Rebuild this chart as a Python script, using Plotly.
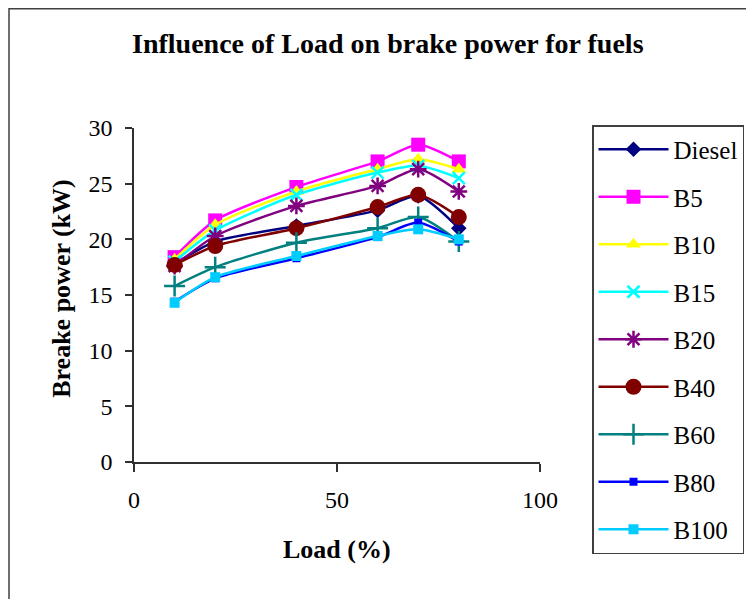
import plotly.graph_objects as go

load = [10, 20, 40, 60, 70, 80]

diesel = [17.8, 19.8, 21.2, 22.6, 23.9, 21.0]
b5 = [18.4, 21.7, 24.7, 27.0, 28.5, 27.0]
b10 = [18.2, 21.3, 24.3, 26.3, 27.2, 26.3]
b15 = [18.0, 20.8, 24.0, 26.0, 26.6, 25.5]
b20 = [17.6, 20.3, 23.0, 24.8, 26.3, 24.3]
b40 = [17.7, 19.4, 21.0, 22.9, 24.0, 22.0]
b60 = [15.8, 17.5, 19.7, 21.0, 22.0, 19.8]
b80 = [14.4, 16.5, 18.3, 20.2, 21.5, 19.8]
b100 = [14.3, 16.6, 18.5, 20.3, 20.9, 20.0]

series_names = ["Diesel", "B5", "B10", "B15", "B20", "B40", "B60", "B80", "B100"]
series_values = [diesel, b5, b10, b15, b20, b40, b60, b80, b100]
series_colors = ["#000080", "#FF00FF", "#FFFF00", "#00FFFF", "#800080",
                 "#800000", "#008080", "#0000FF", "#00CCFF"]
series_symbols = ["diamond", "square", "triangle-up", "x-thin-open", "asterisk-open",
                  "circle", "cross-thin-open", "square", "square"]
series_sizes = [12, 14, 13, 12, 14, 16, 15, 8, 10]

x_ticks = [0, 50, 100]
y_ticks = [0, 5, 10, 15, 20, 25, 30]

fig = go.Figure()
for name, vals, col, sym, sz in zip(series_names, series_values, series_colors,
                                    series_symbols, series_sizes):
    open_sym = sym.endswith("-open")
    fig.add_trace(go.Scatter(
        x=load, y=vals, name=name, mode="lines+markers",
        line=dict(color=col, width=2.5, shape="spline", smoothing=0.7),
        marker=dict(symbol=sym, size=sz, color=col,
                    line=dict(color=col, width=2.5 if open_sym else 0)),
        legendgroup=name,
    ))

serif = "Liberation Serif, Times New Roman, serif"

# page body has an 8px margin, so the figure is sized/positioned to compensate
W, H = 746, 591
fig.update_layout(
    width=W, height=H,
    margin=dict(l=126, r=214, t=120, b=137, autoexpand=False),
    paper_bgcolor="white", plot_bgcolor="white",
    font=dict(family=serif, color="black", size=24),
    showlegend=True,
    legend=dict(
        xref="container", yref="container",
        x=584 / W, y=1 - 117 / H, xanchor="left", yanchor="top",
        bordercolor="#404040", borderwidth=1.5, bgcolor="white",
        font=dict(family=serif, size=25, color="black"),
        tracegroupgap=12, itemwidth=70, maxheight=1.0,
    ),
    xaxis=dict(
        range=[0, 100], tickvals=x_ticks, showgrid=False, zeroline=False,
        showline=True, linecolor="#303030", linewidth=1.5, automargin=False,
        ticks="outside", ticklen=8, tickcolor="#303030", tickwidth=1.5,
        ticklabelstandoff=7, tickfont=dict(family=serif, size=24),
    ),
    yaxis=dict(
        range=[0, 30], tickvals=y_ticks, showgrid=False, zeroline=False,
        showline=True, linecolor="#303030", linewidth=1.5, automargin=False,
        ticks="outside", ticklen=7, tickcolor="#303030", tickwidth=1.5,
        ticklabelstandoff=8, tickfont=dict(family=serif, size=24),
    ),
    annotations=[
        dict(text="<b>Influence of Load on brake power for fuels</b>",
             x=0.626, y=1.253, xref="paper", yref="paper",
             xanchor="center", yanchor="middle", showarrow=False,
             font=dict(family=serif, size=28)),
        dict(text="<b>Breake power (kW)</b>",
             x=-0.177, y=0.519, xref="paper", yref="paper", textangle=-90,
             xanchor="center", yanchor="middle", showarrow=False,
             font=dict(family=serif, size=26)),
        dict(text="<b>Load (%)</b>",
             x=0.5, y=-0.263, xref="paper", yref="paper",
             xanchor="center", yanchor="middle", showarrow=False,
             font=dict(family=serif, size=26)),
    ],
    shapes=[
        dict(type="rect", xref="paper", yref="paper",
             x0=(1 - 126) / 406, x1=1.6, y0=-0.5, y1=(454.3 - 1) / 334,
             line=dict(color="#404040", width=1.5), fillcolor="rgba(0,0,0,0)",
             layer="below"),
    ],
)

fig.write_html("out.html")
